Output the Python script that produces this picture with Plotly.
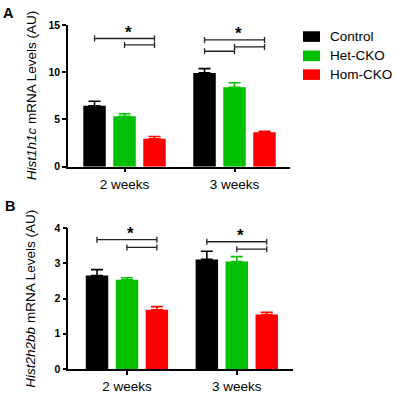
import plotly.graph_objects as go

# ---------------- data ----------------
groups = ["2 weeks", "3 weeks"]
series = ["Control", "Het-CKO", "Hom-CKO"]
colors = ["#000000", "#00c000", "#ff0000"]

# Panel A: Hist1h1c
A_control = [6.45, 9.93]
A_het = [5.33, 8.40]
A_hom = [2.95, 3.64]
A_control_err = [0.47, 0.45]
A_het_err = [0.27, 0.48]
A_hom_err = [0.24, 0.10]

# Panel B: Hist2h2bb
B_control = [2.65, 3.11]
B_het = [2.53, 3.05]
B_hom = [1.68, 1.545]
B_control_err = [0.17, 0.23]
B_het_err = [0.06, 0.14]
B_hom_err = [0.09, 0.065]

# significance brackets: group index, from bar, to bar, height
A_br_group = [0, 0, 1, 1, 1]
A_br_from = [0, 1, 0, 0, 1]
A_br_to = [2, 2, 2, 1, 2]
A_br_y = [13.57, 12.89, 13.42, 12.22, 12.68]

B_br_group = [0, 0, 1, 1]
B_br_from = [0, 1, 0, 1]
B_br_to = [2, 2, 2, 2]
B_br_y = [3.67, 3.45, 3.61, 3.40]

A_yticks = [0, 5, 10, 15]
B_yticks = [0, 1, 2, 3, 4]

# ---------------- layout geometry ----------------
W, H = 395, 406
L, R, T, B = 68, 102, 25, 24
PW, PH = W - L - R, H - T - B
BARGAP = 0.182
BARGROUPGAP = 0.25
slot = (1 - BARGAP) / 3

def px(x):
    return (x - L) / PW

def py(y):
    return (H - B - y) / PH

FONT = "Liberation Sans, Arial, sans-serif"

fig = go.Figure()

panels = [
    ("x", "y", [A_control, A_het, A_hom], [A_control_err, A_het_err, A_hom_err]),
    ("x2", "y2", [B_control, B_het, B_hom], [B_control_err, B_het_err, B_hom_err]),
]
for xa, ya, vals, errs in panels:
    for i, name in enumerate(series):
        fig.add_trace(go.Bar(
            x=groups, y=vals[i], name=name, xaxis=xa, yaxis=ya,
            marker=dict(color=colors[i], line=dict(width=0)),
            error_y=dict(type="data", array=errs[i], arrayminus=[0] * len(errs[i]),
                         symmetric=False, color=colors[i], thickness=1.6, width=6),
            showlegend=False, offsetgroup=str(i),
        ))

shapes = []
annotations = []

def bar_center(g, i):
    return g + (i - 1) * slot

for xa, ya, grp, bf, bt, by in [
    ("x", "y", A_br_group, A_br_from, A_br_to, A_br_y),
    ("x2", "y2", B_br_group, B_br_from, B_br_to, B_br_y),
]:
    tops = {}
    for g, f, t, yv in zip(grp, bf, bt, by):
        x0, x1 = bar_center(g, f), bar_center(g, t)
        line = dict(color="#222222", width=1.3)
        shapes.append(dict(type="line", xref=xa, yref=ya, x0=x0, x1=x1, y0=yv, y1=yv, line=line))
        for xe in (x0, x1):
            shapes.append(dict(type="line", xref=xa, yref=ya, x0=xe, x1=xe,
                               ysizemode="pixel", yanchor=yv, y0=-3, y1=3, line=line))
        if g not in tops or yv > tops[g][2]:
            tops[g] = (x0, x1, yv)
    for g, (x0, x1, yv) in tops.items():
        annotations.append(dict(text="<b>*</b>", x=(x0 + x1) / 2, y=yv, xref=xa, yref=ya,
                                xanchor="center", yanchor="bottom", showarrow=False,
                                xshift=4, yshift=-5, font=dict(size=17, color="#000", family=FONT)))

# legend (manual)
leg_y = [37, 57, 76.5]
for name, c, yc in zip(series, colors, leg_y):
    shapes.append(dict(type="rect", xref="paper", yref="paper",
                       x0=px(303), x1=px(320), y0=py(yc - 5.5), y1=py(yc + 5.5),
                       fillcolor=c, line=dict(width=0)))
    annotations.append(dict(text=name, xref="paper", yref="paper", x=px(328), y=py(yc),
                            xanchor="left", yanchor="middle", showarrow=False,
                            font=dict(size=13.5, color="#000", family=FONT)))

# panel labels
annotations.append(dict(text="<b>A</b>", xref="paper", yref="paper", x=px(9), y=py(13),
                        xanchor="center", yanchor="middle", showarrow=False,
                        font=dict(size=14.5, color="#000", family=FONT)))
annotations.append(dict(text="<b>B</b>", xref="paper", yref="paper", x=px(10), y=py(213),
                        xanchor="center", yanchor="middle", showarrow=False,
                        font=dict(size=14.5, color="#000", family=FONT)))

# y titles
annotations.append(dict(text="<i>Hist1h1c</i> mRNA Levels (AU)", xref="paper", yref="paper",
                        x=px(31), y=py(98), textangle=-90, xanchor="center", yanchor="middle",
                        showarrow=False, font=dict(size=13.5, color="#000", family=FONT)))
annotations.append(dict(text="<i>Hist2h2bb</i> mRNA Levels (AU)", xref="paper", yref="paper",
                        x=px(31), y=py(309), textangle=-90, xanchor="center", yanchor="middle",
                        showarrow=False, font=dict(size=13.5, color="#000", family=FONT)))

common_x = dict(type="category", showline=True, linecolor="#000", linewidth=1.6,
                ticks="outside", ticklen=4, tickwidth=1.5, tickcolor="#000",
                showgrid=False, zeroline=False, fixedrange=True,
                tickfont=dict(size=13.5, color="#000", family=FONT))
common_y = dict(showline=True, linecolor="#000", linewidth=1.6,
                ticks="outside", ticklen=4, tickwidth=1.5, tickcolor="#000",
                showgrid=False, zeroline=False, fixedrange=True,
                tickfont=dict(size=10.5, color="#000", family=FONT, weight="bold"))

yA0 = py(172)
yB1 = py(235.7)

fig.update_layout(
    width=W, height=H,
    margin=dict(l=L, r=R, t=T, b=B),
    paper_bgcolor="white", plot_bgcolor="white",
    barmode="group", bargap=BARGAP, bargroupgap=BARGROUPGAP,
    xaxis=dict(common_x, domain=[0, px(290)], range=[-0.514, 1.5045], anchor="y"),
    yaxis=dict(common_y, domain=[yA0, 1], range=[0, 15], tickvals=A_yticks, anchor="x"),
    xaxis2=dict(common_x, domain=[px(68.3), px(292.7)], range=[-0.534, 1.509], anchor="y2"),
    yaxis2=dict(common_y, domain=[0, yB1], range=[0, 4], tickvals=B_yticks, anchor="x2"),
    shapes=shapes, annotations=annotations,
    showlegend=False,
)

fig.write_html(
    "out.html",
    config={"displayModeBar": False},
    post_script="document.body.style.margin='0';document.body.style.overflow='hidden';",
)
